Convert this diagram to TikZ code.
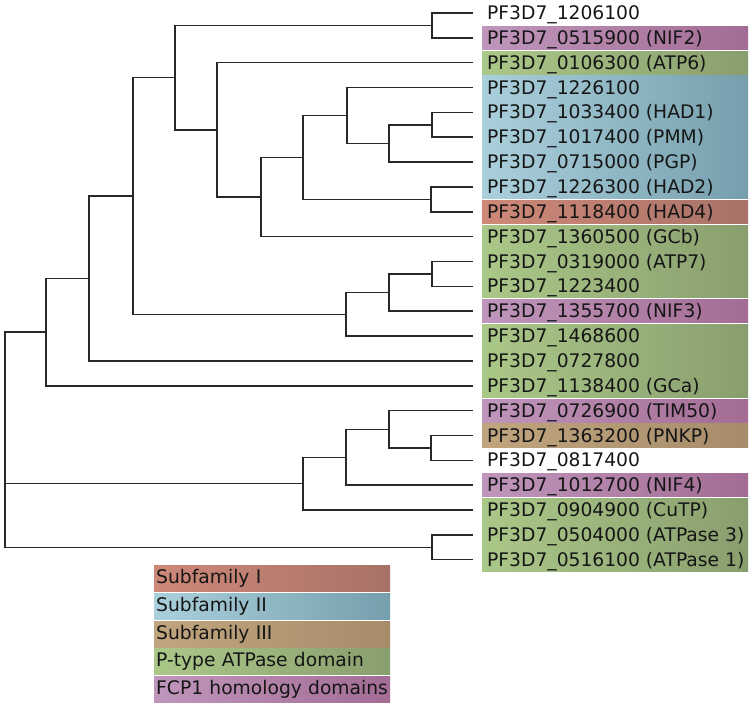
\documentclass[tikz,border=0pt]{standalone}
\usepackage{fontspec}
\setmainfont{DejaVu Sans}
\definecolor{purL}{RGB}{192,150,188}
\definecolor{purR}{RGB}{163,108,148}
\definecolor{grnL}{RGB}{170,200,136}
\definecolor{grnR}{RGB}{137,158,110}
\definecolor{bluL}{RGB}{170,208,220}
\definecolor{bluR}{RGB}{118,158,172}
\definecolor{redL}{RGB}{206,136,120}
\definecolor{redR}{RGB}{168,114,104}
\definecolor{tanL}{RGB}{192,165,126}
\definecolor{tanR}{RGB}{166,140,106}
\definecolor{txt}{RGB}{22,22,22}
\definecolor{branchcol}{RGB}{40,40,40}
\newcommand\ry[1]{(13+(#1-1)*24.85)}
\begin{document}
\begin{tikzpicture}[x=1pt,y=-1pt,
  branch/.style={draw=branchcol,line width=1.5pt,line cap=rect},
  lab/.style={anchor=base west,inner sep=0pt,text=txt,font=\fontsize{18.7}{22}\selectfont},
  legbox/.style={anchor=north west,minimum width=236pt,minimum height=26pt,text width=232pt,
    inner xsep=2pt,inner ysep=0pt,align=left,text=txt,font=\fontsize{18.7}{22}\selectfont},
  pur/.style={left color=purL,right color=purR},
  grn/.style={left color=grnL,right color=grnR},
  blu/.style={left color=bluL,right color=bluR},
  red/.style={left color=redL,right color=redR},
  tan/.style={left color=tanL,right color=tanR}]
\useasboundingbox (0,0) rectangle (752,706);

% label backgrounds
\foreach \a/\b/\s in {2/2/pur,3/3/grn,4/8/blu,9/9/red,10/12/grn,13/13/pur,14/16/grn,17/17/pur,18/18/tan,20/20/pur,21/23/grn}
  \fill[\s] (482,{\ry{\a}-11.6}) rectangle (748,{\ry{\b}+11.6});

% leaf tips
\foreach \i in {1,...,23}
  \coordinate (L\i) at (472,{\ry{\i}});

% labels
\foreach \i/\t in {1/PF3D7\_1206100,2/PF3D7\_0515900 (NIF2),3/PF3D7\_0106300 (ATP6),
  4/PF3D7\_1226100,5/PF3D7\_1033400 (HAD1),6/PF3D7\_1017400 (PMM),7/PF3D7\_0715000 (PGP),
  8/PF3D7\_1226300 (HAD2),9/PF3D7\_1118400 (HAD4),10/PF3D7\_1360500 (GCb),
  11/PF3D7\_0319000 (ATP7),12/PF3D7\_1223400,13/PF3D7\_1355700 (NIF3),14/PF3D7\_1468600,
  15/PF3D7\_0727800,16/PF3D7\_1138400 (GCa),17/PF3D7\_0726900 (TIM50),18/PF3D7\_1363200 (PNKP),
  19/PF3D7\_0817400,20/PF3D7\_1012700 (NIF4),21/PF3D7\_0904900 (CuTP),
  22/PF3D7\_0504000 (ATPase 3),23/PF3D7\_0516100 (ATPase 1)}
  \node[lab] (t\i) at (487,{\ry{\i}+6.6}) {\t};

% internal nodes
\coordinate (A) at (432,25.4);
\coordinate (H) at (432,124.8);
\coordinate (G) at (389,143.5);
\coordinate (E) at (347,115.5);
\coordinate (F) at (431,199.4);
\coordinate (D) at (303,157.5);
\coordinate (C) at (261,197.1);
\coordinate (B) at (217,129.9);
\coordinate (Q) at (175,77.6);
\coordinate (K) at (432,273.9);
\coordinate (J) at (389,292.6);
\coordinate (I) at (346,314.3);
\coordinate (R) at (133,196.0);
\coordinate (S) at (89,278.4);
\coordinate (T) at (46,332.1);
\coordinate (O) at (431,448.0);
\coordinate (N) at (389,429.3);
\coordinate (M) at (346,457.3);
\coordinate (LL) at (303,483.7);
\coordinate (P) at (432,547.4);
\coordinate (root) at (5,483.7);

\draw[branch] (A) |- (L1) (A) |- (L2);
\draw[branch] (H) |- (L5) (H) |- (L6);
\draw[branch] (G) |- (H) (G) |- (L7);
\draw[branch] (E) |- (L4) (E) |- (G);
\draw[branch] (F) |- (L8) (F) |- (L9);
\draw[branch] (D) |- (E) (D) |- (F);
\draw[branch] (C) |- (D) (C) |- (L10);
\draw[branch] (B) |- (L3) (B) |- (C);
\draw[branch] (Q) |- (A) (Q) |- (B);
\draw[branch] (K) |- (L11) (K) |- (L12);
\draw[branch] (J) |- (K) (J) |- (L13);
\draw[branch] (I) |- (J) (I) |- (L14);
\draw[branch] (R) |- (Q) (R) |- (I);
\draw[branch] (S) |- (R) (S) |- (L15);
\draw[branch] (T) |- (S) (T) |- (L16);
\draw[branch] (O) |- (L18) (O) |- (L19);
\draw[branch] (N) |- (L17) (N) |- (O);
\draw[branch] (M) |- (N) (M) |- (L20);
\draw[branch] (LL) |- (M) (LL) |- (L21);
\draw[branch] (P) |- (L22) (P) |- (L23);
\draw[branch] (root) |- (T) (root) |- (LL) (root) |- (P);

% legend
\node[legbox,red] (lg1) at (154,565) {Subfamily I};
\node[legbox,blu] (lg2) at (154,593) {Subfamily II};
\node[legbox,tan] (lg3) at (154,621) {Subfamily III};
\node[legbox,grn] (lg4) at (154,648.5) {P-type ATPase domain};
\node[legbox,pur] (lg5) at (154,676) {FCP1 homology domains};
\end{tikzpicture}
\end{document}
